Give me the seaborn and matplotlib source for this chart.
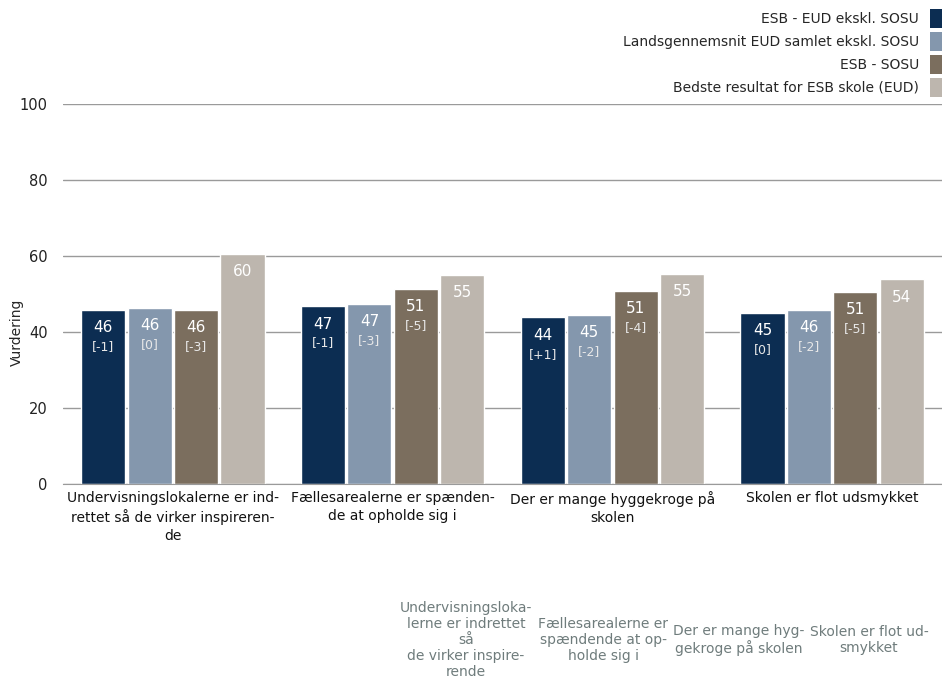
import pandas as pd
import matplotlib.pyplot as plt
import matplotlib.patches as mpatches
import seaborn as sns

# Categories (x tick labels, wrapped like the source)
categories = [
    "Undervisningslokalerne er ind-\nrettet så de virker inspireren-\nde",
    "Fællesarealerne er spænden-\nde at opholde sig i",
    "Der er mange hyggekroge på\nskolen",
    "Skolen er flot udsmykket",
]
series = [
    "ESB - EUD ekskl. SOSU",
    "Landsgennemsnit EUD samlet ekskl. SOSU",
    "ESB - SOSU",
    "Bedste resultat for ESB skole (EUD)",
]
esb_eud = [45.8, 46.8, 43.9, 45.0]
lands = [46.3, 47.4, 44.5, 45.8]
esb_sosu = [45.8, 51.3, 50.8, 50.5]
best = [60.5, 55.0, 55.3, 53.9]

shown_values = [[46, 47, 44, 45], [46, 47, 45, 46], [46, 51, 51, 51], [60, 55, 55, 54]]
changes = [["[-1]", "[-1]", "[+1]", "[0]"],
           ["[0]", "[-3]", "[-2]", "[-2]"],
           ["[-3]", "[-5]", "[-4]", "[-5]"],
           None]

# Grey labels at the bottom of the source image
extra_labels = [
    "Undervisningsloka-\nlerne er indrettet\nså\nde virker inspire-\nrende",
    "Fællesarealerne er\nspændende at op-\nholde sig i",
    "Der er mange hyg-\ngekroge på skolen",
    "Skolen er flot ud-\nsmykket",
]
extra_x = [466, 603, 739, 869]

colors = ["#0c2d52", "#8497ad", "#7b6e5e", "#bdb6ae"]

rows = []
for s, vals in zip(series, [esb_eud, lands, esb_sosu, best]):
    for c, v in zip(categories, vals):
        rows.append({"category": c, "series": s, "value": v})
df = pd.DataFrame(rows)

sns.set_style("white")
plt.rcParams['font.family'] = ['DejaVu Sans']

fig = plt.figure(figsize=(9.42, 6.86), dpi=100)
ax = fig.add_axes([63 / 942, 1 - 484 / 686, 1 - 63 / 942, (484 - 104) / 686])

sns.barplot(data=df, x="category", y="value", hue="series", order=categories,
            hue_order=series, palette=colors, width=0.845, gap=0.05,
            saturation=1, ax=ax, legend=False)

ax.set_ylim(0, 100)
ax.set_xlim(-0.5, 3.5)
ax.set_yticks([0, 20, 40, 60, 80, 100])
ax.yaxis.grid(True, color="#9a9a9a", linewidth=1)
ax.set_axisbelow(True)
for side in ["top", "right", "left"]:
    ax.spines[side].set_visible(False)
ax.spines["bottom"].set_color("#9a9a9a")
ax.tick_params(axis="y", length=0, pad=11, labelsize=10.5, colors="#222222")
ax.tick_params(axis="x", length=0, pad=5, labelsize=10, colors="#111111")
for t in ax.get_xticklabels():
    t.set_linespacing(1.35)
ax.set_xlabel("")
ax.set_ylabel("Vurdering", fontsize=10, labelpad=6)
ax.yaxis.set_label_coords(-0.045, 0.40)

# Value labels inside the bars
for i, cont in enumerate(ax.containers):
    for j, bar in enumerate(cont):
        xc = bar.get_x() + bar.get_width() / 2
        top = bar.get_height()
        ax.text(xc, top - 4.7, str(shown_values[i][j]), ha="center", va="center",
                color="white", fontsize=11)
        if changes[i] is not None:
            ax.text(xc, top - 9.7, changes[i][j], ha="center", va="center",
                    color="#e8e8e8", fontsize=9)

# Legend, text on the left and colour box on the right
handles = [mpatches.Patch(facecolor=c, edgecolor="none", label=s) for c, s in zip(colors, series)]
fig.legend(handles=handles, loc="upper right", bbox_to_anchor=(1.0, 1 - 9 / 686),
           frameon=False, markerfirst=False, fontsize=10,
           handlelength=0.85, handleheight=1.7, handletextpad=0.8,
           labelspacing=0.3, borderaxespad=0.0, borderpad=0.0)

for lbl, xp in zip(extra_labels, extra_x):
    fig.text(xp / 942, 1 - 640 / 686, lbl, ha="center", va="center",
             color="#6f7c7c", fontsize=10, linespacing=1.2)

fig.savefig("out.png", dpi=100)
plt.close(fig)
